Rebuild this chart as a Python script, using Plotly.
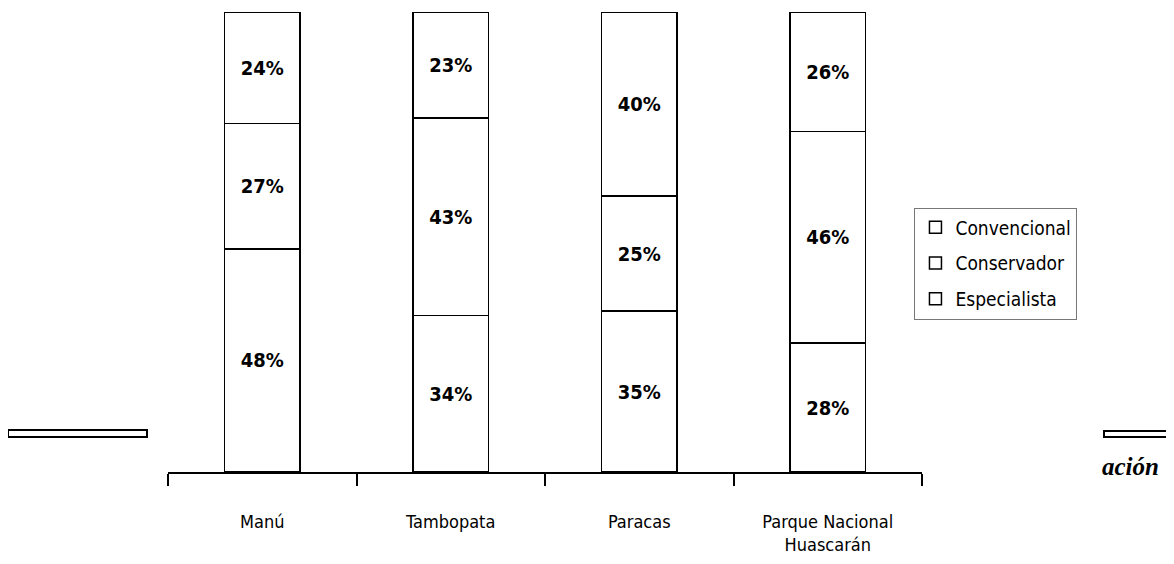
import plotly.graph_objects as go

categories = ["Manú", "Tambopata", "Paracas", "Parque Nacional<br>Huascarán"]
especialista = [48, 34, 35, 28]
conservador = [27, 43, 25, 46]
convencional = [24, 23, 40, 26]

FONT = "DejaVu Sans Condensed, Liberation Sans Narrow, Arial Narrow, Liberation Sans, sans-serif"

fig = go.Figure()
for rank, name, vals in [(3, "Especialista", especialista), (2, "Conservador", conservador), (1, "Convencional", convencional)]:
    fig.add_trace(go.Bar(
        x=categories, y=vals, name=name, legendgroup=name, legendrank=rank,
        text=[f"<b>{v}%</b>" for v in vals], textposition="inside", insidetextanchor="middle",
        textangle=0, constraintext="none",
        textfont=dict(family=FONT, size=20, color="black"),
        marker=dict(color="white", line=dict(color="black", width=1.5)),
        width=0.4,
    ))

fig.update_layout(
    barmode="stack", barnorm="percent",
    width=1166, height=556,
    margin=dict(l=160, r=252, t=4, b=92),
    paper_bgcolor="white", plot_bgcolor="white",
    font=dict(family=FONT, size=17, color="black"),
    showlegend=True,
    legend=dict(x=0.99, y=0.575, xanchor="left", yanchor="top",
                traceorder="grouped", bordercolor="#777", borderwidth=1,
                font=dict(family=FONT, size=19, color="black"),
                itemwidth=30, tracegroupgap=8),
    xaxis=dict(showline=True, linecolor="black", linewidth=2, ticks="outside",
               tickson="boundaries", ticklen=12, tickwidth=1.5, tickcolor="black",
               ticklabelstandoff=32, tickfont=dict(family=FONT, size=18),
               range=[-0.5, 3.5], showgrid=False),
    yaxis=dict(visible=False, range=[0, 100], showgrid=False),
    shapes=[
        dict(type="rect", xref="paper", yref="paper", x0=(8-168)/754, x1=(147-168)/754,
             y0=(472-437)/460, y1=(472-430)/460, line=dict(color="black", width=2), fillcolor="white"),
        dict(type="rect", xref="paper", yref="paper", x0=(1104-168)/754, x1=(1174-168)/754,
             y0=(472-437)/460, y1=(472-431)/460, line=dict(color="black", width=2), fillcolor="white"),
    ],
    annotations=[
        dict(text="<b>ación</b>", xref="paper", yref="paper", x=(1100-168)/754, y=(472-466)/460,
             xanchor="left", yanchor="middle", showarrow=False,
             font=dict(family="Liberation Serif, serif", size=25, color="black", style="italic")),
    ],
)

fig.write_html("out.html")
